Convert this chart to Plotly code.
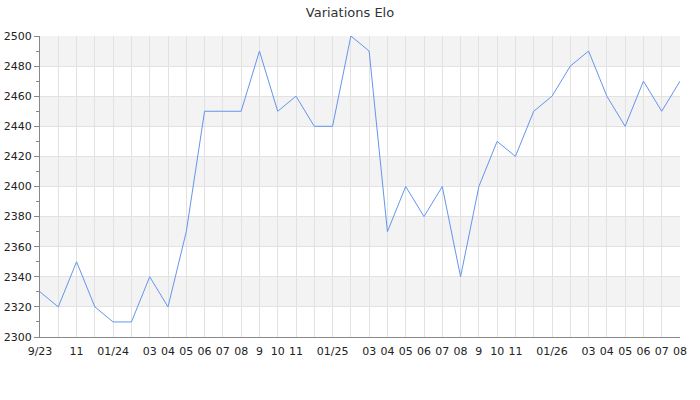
import plotly.graph_objects as go

months = ["2023-09","2023-10","2023-11","2023-12","2024-01","2024-02","2024-03","2024-04","2024-05","2024-06","2024-07","2024-08",
          "2024-09","2024-10","2024-11","2024-12","2025-01","2025-02","2025-03","2025-04","2025-05","2025-06","2025-07","2025-08",
          "2025-09","2025-10","2025-11","2025-12","2026-01","2026-02","2026-03","2026-04","2026-05","2026-06","2026-07","2026-08"]
elo = [2330,2320,2350,2320,2310,2310,2340,2320,2370,2450,2450,2450,
       2490,2450,2460,2440,2440,2500,2490,2370,2400,2380,2400,2340,
       2400,2430,2420,2450,2460,2480,2490,2460,2440,2470,2450,2470]
tick_labels = ["9/23","","11","","01/24","","03","04","05","06","07","08",
               "9","10","11","","01/25","","03","04","05","06","07","08",
               "9","10","11","","01/26","","03","04","05","06","07","08"]
y_ticks = [2300,2320,2340,2360,2380,2400,2420,2440,2460,2480,2500]

x = list(range(len(months)))

fig = go.Figure()
fig.add_trace(go.Scatter(x=x, y=elo, mode="lines",
                         line=dict(color="#6495ED", width=1), hoverinfo="skip"))

shapes = []
for i in range(len(y_ticks) - 1):
    if i % 2 == 1:
        shapes.append(dict(type="rect", xref="paper", yref="y", x0=0, x1=1,
                           y0=y_ticks[i], y1=y_ticks[i + 1],
                           fillcolor="#f3f3f3", line=dict(width=0), layer="below"))

fig.update_layout(
    width=700, height=400,
    margin=dict(l=40, r=20, t=36, b=63),
    paper_bgcolor="white", plot_bgcolor="white",
    showlegend=False,
    shapes=shapes,
    title=dict(text="Variations Elo", x=0.5, xanchor="center", y=1 - 12 / 400, yanchor="middle",
               yref="container", font=dict(family="DejaVu Sans", size=13, color="#333")),
    font=dict(family="DejaVu Sans", size=11, color="#333"),
    xaxis=dict(range=[0, len(months) - 1], tickmode="array", tickvals=x, ticktext=tick_labels,
               showgrid=True, gridcolor="#e2e2e2", gridwidth=1,
               showline=True, linecolor="#888888", linewidth=1,
               ticks="outside", ticklen=4, tickcolor="rgba(0,0,0,0)",
               zeroline=False, tickangle=0, automargin=False,
               tickfont=dict(size=11, color="#222")),
    yaxis=dict(range=[2300, 2500], tickmode="array", tickvals=y_ticks,
               showgrid=True, gridcolor="#e2e2e2", gridwidth=1,
               showline=True, linecolor="#888888", linewidth=1,
               ticks="outside", ticklen=5, tickcolor="#888888",
               minor=dict(dtick=10, ticks="outside", ticklen=3, tickcolor="#888888", showgrid=False),
               zeroline=False, automargin=False, tickfont=dict(size=11, color="#222")),
)

fig.write_html("out.html", config={"displayModeBar": False},
               post_script="document.body.style.margin='0px';")
